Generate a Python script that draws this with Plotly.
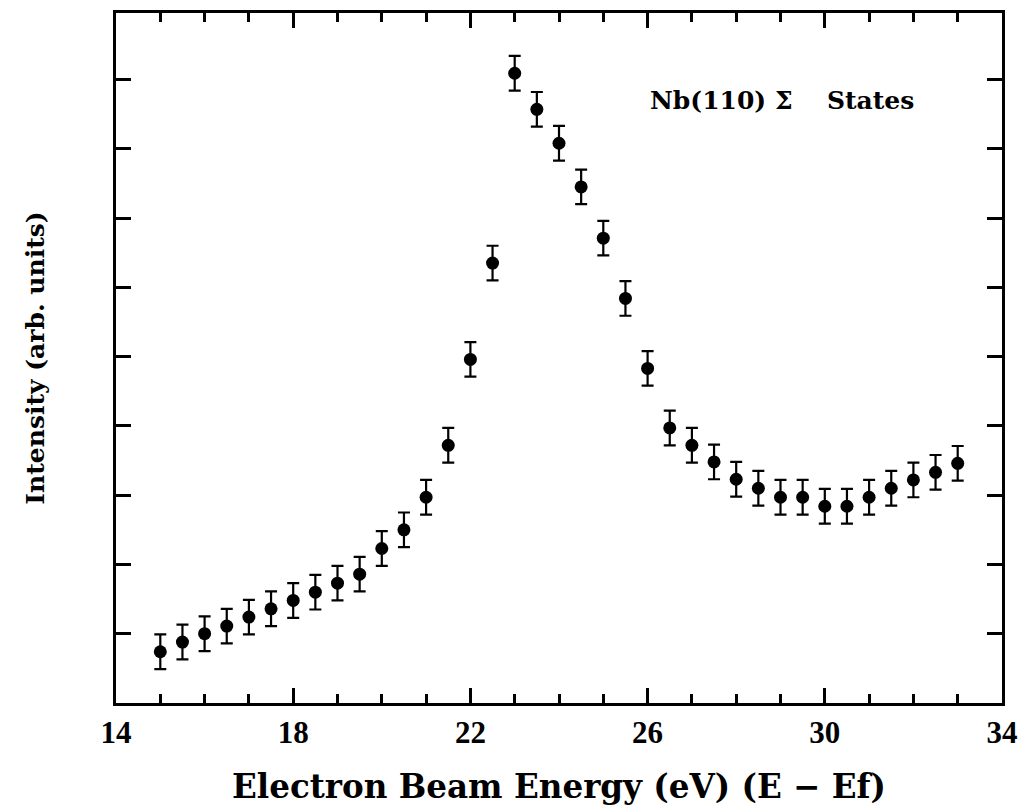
import plotly.graph_objects as go

energy = [15, 15.5, 16, 16.5, 17, 17.5, 18, 18.5, 19, 19.5, 20, 20.5, 21, 21.5,
          22, 22.5, 23, 23.5, 24, 24.5, 25, 25.5, 26, 26.5, 27, 27.5, 28, 28.5,
          29, 29.5, 30, 30.5, 31, 31.5, 32, 32.5, 33]
intensity = [0.74, 0.88, 1.00, 1.11, 1.24, 1.36, 1.48, 1.60, 1.73, 1.86, 2.23, 2.50,
             2.97, 3.72, 4.96, 6.35, 9.09, 8.57, 8.08, 7.45, 6.71, 5.84, 4.83, 3.97,
             3.72, 3.48, 3.23, 3.10, 2.97, 2.97, 2.84, 2.84, 2.97, 3.10, 3.22, 3.33, 3.46]
error = [0.25] * len(energy)

x_range = [14, 34]
x_all_ticks = list(range(14, 35))
x_major_ticks = [14, 18, 22, 26, 30, 34]
x_tick_text = [str(v) if v in x_major_ticks else "" for v in x_all_ticks]
y_range = [0, 9.96]
y_ticks = [1, 2, 3, 4, 5, 6, 7, 8, 9]

fig = go.Figure()
# invisible copy on the overlay axis so the long major-tick axis is drawn
fig.add_trace(go.Scatter(
    x=energy, y=intensity, mode="markers", xaxis="x2",
    marker=dict(color="rgba(0,0,0,0)", size=1), hoverinfo="skip", showlegend=False,
))
fig.add_trace(go.Scatter(
    x=energy, y=intensity, mode="markers",
    marker=dict(color="black", size=13),
    error_y=dict(type="data", array=error, color="black", thickness=2.2, width=6),
    showlegend=False,
))

serif = "DejaVu Serif"
fig.add_annotation(x=26.0, y=8.69, xref="x", yref="y", text="<b>Nb(110) Σ</b>",
                   showarrow=False, xanchor="left", yanchor="middle",
                   font=dict(family=serif, size=25, color="black"))
fig.add_annotation(x=30.0, y=8.69, xref="x", yref="y", text="<b>States</b>",
                   showarrow=False, xanchor="left", yanchor="middle",
                   font=dict(family=serif, size=25, color="black"))

fig.update_layout(
    xaxis=dict(
        range=x_range, tickvals=x_all_ticks, ticktext=x_tick_text,
        ticks="inside", ticklen=9, tickwidth=2.5, tickcolor="black",
        showline=True, linewidth=3, linecolor="black", mirror="ticks",
        showgrid=False, zeroline=False, automargin=False,
        tickfont=dict(family="Liberation Sans Narrow", size=31, color="black", weight="bold"),
        title=dict(text="<b>Electron Beam Energy (eV) (E − Ef)</b>", standoff=26,
                   font=dict(family=serif, size=32.6, color="black")),
    ),
    xaxis2=dict(
        range=x_range, overlaying="x", anchor="y", side="bottom",
        tickvals=x_major_ticks, showticklabels=False,
        ticks="inside", ticklen=15, tickwidth=2.5, tickcolor="black",
        showline=True, linewidth=3, linecolor="black", mirror="ticks",
        showgrid=False, zeroline=False, automargin=False,
    ),
    yaxis=dict(
        range=y_range, tickvals=y_ticks, showticklabels=False,
        ticks="inside", ticklen=15, tickwidth=2.5, tickcolor="black",
        showline=True, linewidth=3, linecolor="black", mirror="ticks",
        showgrid=False, zeroline=False, automargin=False,
        title=dict(text="<b>Intensity (arb. units)</b>", standoff=62,
                   font=dict(family=serif, size=25, color="black")),
    ),
    width=1020, height=809,
    margin=dict(l=116, r=18, t=13, b=106),
    plot_bgcolor="white", paper_bgcolor="white",
)
fig.write_html("out.html")
